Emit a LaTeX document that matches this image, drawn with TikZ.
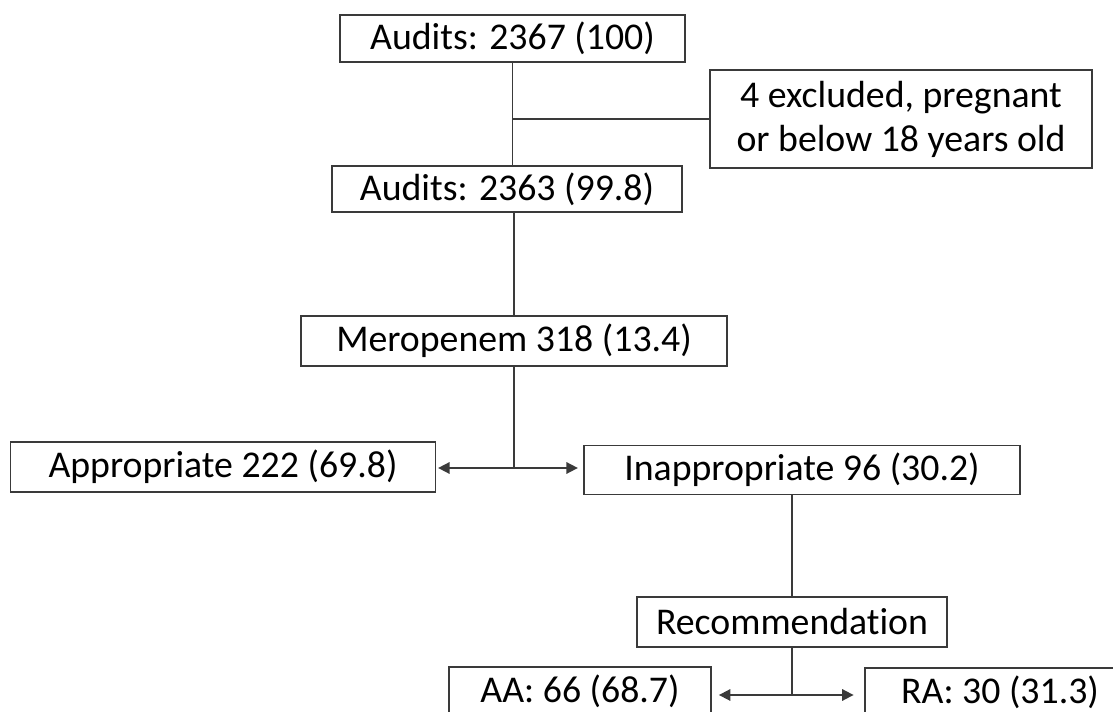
\documentclass[tikz,border=0pt]{standalone}
\usepackage{fontspec}
\setmainfont{Carlito}[Ligatures=NoCommon]
\usetikzlibrary{arrows.meta}
\definecolor{FCLine}{HTML}{3A3A3A}

\begin{document}
\begin{tikzpicture}[x=1cm,y=1cm,
  fcbox/.style={draw=FCLine,line width=1pt,inner sep=0pt,align=center,
    font=\fontsize{21.5}{25}\selectfont},
  fcline/.style={draw=FCLine,line width=1pt},
  fcarrow/.style={fcline,-{Triangle[length=6.5pt,width=6.5pt]}}]
\path[use as bounding box] (0,0) rectangle (22.26,14.24);
\clip (0,0) rectangle (22.26,14.24);
\node[fcbox,minimum width=6.90cm,minimum height=0.94cm] (audall) at (10.25,13.47) {Audits: 2367 (100)};
\node[fcbox,minimum width=7.64cm,minimum height=1.96cm] (excl) at (18.02,11.86) {4 excluded, pregnant\\or below 18 years old};
\node[fcbox,minimum width=7.00cm,minimum height=0.92cm] (audinc) at (10.14,10.46) {Audits: 2363 (99.8)};
\node[fcbox,minimum width=8.52cm,minimum height=1.00cm] (mero) at (10.28,7.42) {Meropenem 318 (13.4)};
\node[fcbox,minimum width=8.50cm,minimum height=1.00cm] (appr) at (4.46,4.90) {Appropriate 222 (69.8)};
\node[fcbox,minimum width=8.72cm,minimum height=0.98cm] (inappr) at (16.04,4.84) {Inappropriate 96 (30.2)};
\node[fcbox,minimum width=6.20cm,minimum height=1.00cm] (recom) at (15.84,1.80) {Recommendation};
\node[fcbox,minimum width=5.24cm,minimum height=0.96cm] (aa) at (11.60,0.42) {AA: 66 (68.7)};
\node[fcbox,minimum width=5.40cm,minimum height=0.96cm] (ra) at (20.00,0.40) {RA: 30 (31.3)};
% connectors
\coordinate (exclsplit) at (audall.south |- excl.west);
\coordinate (merosplit) at (mero.south |- 0,4.88);
\coordinate (recsplit) at (recom.south |- 0,0.34);
\draw[fcline] (audall.south) -- (audall.south |- audinc.north);
\draw[fcline] (exclsplit) -- (excl.west);
\draw[fcline] (mero.north) -- (mero.north |- audinc.south);
\draw[fcline] (mero.south) -- (merosplit);
\draw[fcarrow] (merosplit) -- ([xshift=1pt]merosplit -| appr.east);
\draw[fcarrow] (merosplit) -- ([xshift=-3pt]merosplit -| inappr.west);
\draw[fcline] (recom.north) -- (recom.north |- inappr.south);
\draw[fcline] (recom.south) -- (recsplit);
\draw[fcarrow] (recsplit) -- ([xshift=4pt]recsplit -| aa.east);
\draw[fcarrow] (recsplit) -- ([xshift=-6pt]recsplit -| ra.west);
\end{tikzpicture}
\end{document}
